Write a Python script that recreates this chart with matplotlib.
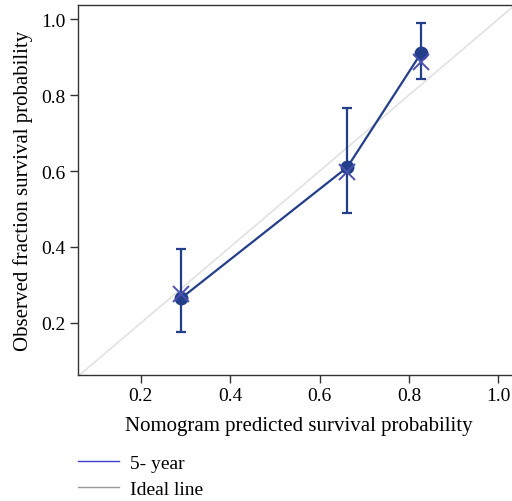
import matplotlib
matplotlib.use("Agg")
import matplotlib.pyplot as plt
from matplotlib.lines import Line2D

plt.rcParams['font.family'] = ['Liberation Serif', 'DejaVu Serif']

# calibration groups (5-year)
predicted = [0.29, 0.662, 0.828]
observed = [0.265, 0.61, 0.912]
ci_low = [0.175, 0.489, 0.843]
ci_high = [0.396, 0.766, 0.989]
bias_corrected = [0.276, 0.597, 0.887]

x_ticks = [0.2, 0.4, 0.6, 0.8, 1.0]
y_ticks = [0.2, 0.4, 0.6, 0.8, 1.0]

navy = '#233f8a'

fig = plt.figure(figsize=(5.12, 5.02), dpi=100)
# right edge runs past the figure, so the right spine is cut off
ax = fig.add_axes([0.152, 0.251, 0.865, 0.737])

# ideal line
ax.plot([0, 1.1], [0, 1.1], color='#e2e2e2', linewidth=1.2, zorder=1)

err_lo = [o - l for o, l in zip(observed, ci_low)]
err_hi = [h - o for o, h in zip(observed, ci_high)]
ax.errorbar(predicted, observed, yerr=[err_lo, err_hi], fmt='none',
            ecolor=navy, elinewidth=1.6, capsize=3.5, capthick=1.6, zorder=3)
ax.plot(predicted, observed, color=navy, linewidth=1.6, marker='o',
        markersize=9, markerfacecolor=navy, markeredgecolor=navy, zorder=4)
ax.plot(predicted, bias_corrected, linestyle='none', marker='x',
        markersize=11, markeredgewidth=1.4, color='#4a4fb0', zorder=5)

ax.set_xlim(0.059, 1.05)
ax.set_ylim(0.063, 1.037)
ax.set_xticks(x_ticks)
ax.set_yticks(y_ticks)
ax.set_xticklabels([f'{t:.1f}' for t in x_ticks])
ax.set_yticklabels([f'{t:.1f}' for t in y_ticks])
ax.tick_params(labelsize=14, length=6, width=1, color='#333333', pad=3)
for s in ax.spines.values():
    s.set_color('#333333')
    s.set_linewidth(1)
ax.spines['right'].set_visible(False)

ax.set_xlabel('Nomogram predicted survival probability', fontsize=15, labelpad=8)
ax.set_ylabel('Observed fraction survival probability', fontsize=15, labelpad=6)

handles = [Line2D([], [], color='#3f3fc8', linewidth=1),
           Line2D([], [], color='#9a9a9a', linewidth=1)]
fig.legend(handles, ['5- year', 'Ideal line'], loc='upper left',
           bbox_to_anchor=(0.152, 0.093), frameon=False, fontsize=14,
           handlelength=2.1, labelspacing=0.45, handletextpad=0.6,
           borderaxespad=0, borderpad=0)

fig.savefig('out.png', dpi=100)
